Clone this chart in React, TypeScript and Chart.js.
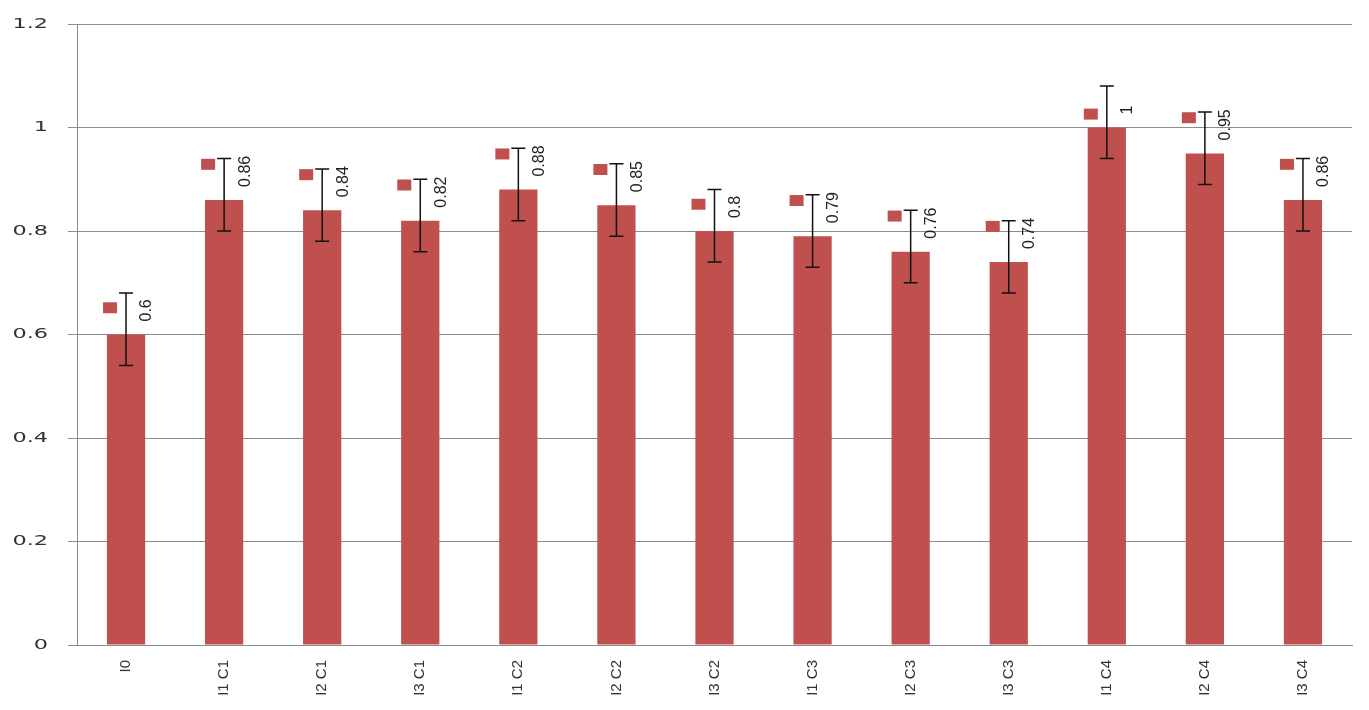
import React, { useEffect, useRef } from "react";
import { Chart, registerables } from "chart.js";

Chart.register(...registerables);

const categories = ["I0", "I1 C1", "I2 C1", "I3 C1", "I1 C2", "I2 C2", "I3 C2", "I1 C3", "I2 C3", "I3 C3", "I1 C4", "I2 C4", "I3 C4"];
const values = [0.6, 0.86, 0.84, 0.82, 0.88, 0.85, 0.8, 0.79, 0.76, 0.74, 1, 0.95, 0.86];
const errPlus = [0.08, 0.08, 0.08, 0.08, 0.08, 0.08, 0.08, 0.08, 0.08, 0.08, 0.08, 0.08, 0.08];
const errMinus = [0.06, 0.06, 0.06, 0.06, 0.06, 0.06, 0.06, 0.06, 0.06, 0.06, 0.06, 0.06, 0.06];
const yTickValues = [0, 0.2, 0.4, 0.6, 0.8, 1, 1.2];
const yTickLabels = ["0", "0.2", "0.4", "0.6", "0.8", "1", "1.2"];

const BAR_COLOR = "#C0504D";
const GRID_COLOR = "#8c8c8c";

const overlayPlugin = {
  id: "overlay",
  afterDatasetsDraw(chart: any) {
    const ctx = chart.ctx;
    const y = chart.scales.y;
    const meta = chart.getDatasetMeta(0);
    meta.data.forEach((bar: any, i: number) => {
      const cx = bar.x;
      const top = y.getPixelForValue(values[i]);
      const hi = y.getPixelForValue(values[i] + errPlus[i]);
      const lo = y.getPixelForValue(values[i] - errMinus[i]);
      ctx.save();
      ctx.strokeStyle = "#111";
      ctx.lineWidth = 1.5;
      ctx.beginPath();
      ctx.moveTo(cx, hi);
      ctx.lineTo(cx, lo);
      ctx.moveTo(cx - 7, hi);
      ctx.lineTo(cx + 7, hi);
      ctx.moveTo(cx - 7, lo);
      ctx.lineTo(cx + 7, lo);
      ctx.stroke();
      ctx.restore();

      const text = String(values[i]);
      ctx.save();
      ctx.font = '16px "Liberation Sans", Arial, sans-serif';
      const w = ctx.measureText(text).width;
      const bottom = top - 13;
      ctx.fillStyle = BAR_COLOR;
      ctx.fillRect(cx - 23, bottom - w + 3, 14, 11);
      ctx.translate(cx + 21, bottom);
      ctx.rotate(-Math.PI / 2);
      ctx.textAlign = "left";
      ctx.textBaseline = "middle";
      ctx.fillStyle = "#222";
      ctx.fillText(text, 0, 0);
      ctx.restore();
    });
  },
  afterDraw(chart: any) {
    const ctx = chart.ctx;
    const y = chart.scales.y;
    ctx.save();
    ctx.font = '14px "DejaVu Sans", sans-serif';
    ctx.fillStyle = "#333";
    ctx.textAlign = "right";
    ctx.textBaseline = "middle";
    yTickValues.forEach((v, i) => {
      const py = y.getPixelForValue(v);
      ctx.save();
      ctx.translate(48, py);
      ctx.scale(1.6, 1);
      ctx.fillText(yTickLabels[i], 0, 0);
      ctx.restore();
    });
    ctx.restore();
  },
};

export default function App() {
  const ref = useRef<HTMLCanvasElement>(null);
  useEffect(() => {
    if (!ref.current) return;
    const chart = new Chart(ref.current, {
      type: "bar",
      data: {
        labels: categories,
        datasets: [
          {
            data: values,
            backgroundColor: BAR_COLOR,
            borderWidth: 0,
            barPercentage: 0.39,
            categoryPercentage: 1,
          },
        ],
      },
      options: {
        responsive: false,
        animation: false,
        devicePixelRatio: 1,
        layout: { padding: { top: 24, right: 17, left: 0, bottom: 0 } },
        plugins: { legend: { display: false }, tooltip: { enabled: false } },
        scales: {
          x: {
            grid: { display: false, drawTicks: false },
            border: { display: true, color: GRID_COLOR, width: 1 },
            ticks: {
              minRotation: 90,
              maxRotation: 90,
              padding: 15,
              color: "#333",
              font: { family: '"Liberation Sans", Arial, sans-serif', size: 15 },
            },
            afterFit(scale: any) {
              scale.height = 65;
            },
          },
          y: {
            min: 0,
            max: 1.2,
            ticks: { display: false, stepSize: 0.2 },
            grid: { color: GRID_COLOR, lineWidth: 1, drawTicks: true, tickLength: 9 },
            border: { display: true, color: GRID_COLOR, width: 1 },
            afterFit(scale: any) {
              scale.width = 77;
            },
          },
        },
      },
      plugins: [overlayPlugin],
    });
    return () => chart.destroy();
  }, []);
  return (
    <div style={{ position: "fixed", left: 0, top: 0, width: 1369, height: 710, background: "#fff" }}>
      <canvas ref={ref} width={1369} height={710} style={{ display: "block" }} />
    </div>
  );
}
